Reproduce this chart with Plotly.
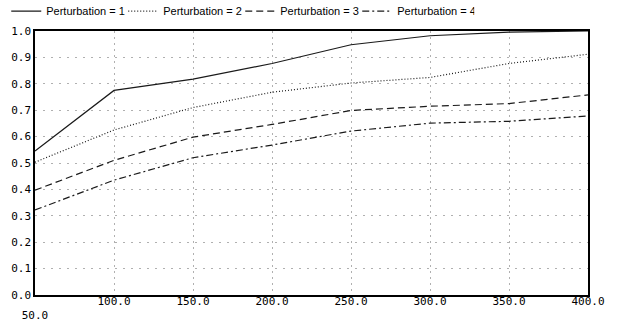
import plotly.graph_objects as go

# Sample sizes on the x axis
sizes = [50, 100, 150, 200, 250, 300, 350, 400]

# Success rate for each perturbation level
pert_1 = [0.545, 0.775, 0.818, 0.877, 0.948, 0.982, 0.996, 1.0]
pert_2 = [0.503, 0.625, 0.710, 0.768, 0.803, 0.824, 0.877, 0.912]
pert_3 = [0.397, 0.510, 0.598, 0.646, 0.699, 0.715, 0.725, 0.758]
pert_4 = [0.322, 0.435, 0.520, 0.568, 0.621, 0.651, 0.658, 0.678]

series_names = ["Perturbation = 1", "Perturbation = 2", "Perturbation = 3", "Perturbation = 4"]
x_tick_labels = ["<br>50.0", "100.0", "150.0", "200.0", "250.0", "300.0", "350.0", "400.0"]
y_ticks = [0.0, 0.1, 0.2, 0.3, 0.4, 0.5, 0.6, 0.7, 0.8, 0.9, 1.0]

styles = [
    dict(color="#1a1a1a", dash="solid"),
    dict(color="#1a1a1a", dash="1px,2px"),
    dict(color="#1a1a1a", dash="7px,4px"),
    dict(color="#1a1a1a", dash="7px,3px,2px,3px"),
]

fig = go.Figure()
for name, ys, st in zip(series_names, [pert_1, pert_2, pert_3, pert_4], styles):
    fig.add_trace(go.Scatter(
        x=sizes, y=ys, mode="lines", name=name,
        line=dict(color=st["color"], dash=st["dash"], width=1.2),
    ))

mono = dict(family="DejaVu Sans Mono, Liberation Mono, monospace", size=11, color="#000")

fig.update_layout(
    width=620, height=322,
    margin=dict(l=35, r=32, t=31, b=27, autoexpand=False),
    paper_bgcolor="white", plot_bgcolor="white",
    showlegend=True,
    legend=dict(
        orientation="h", x=-0.052, xanchor="left", y=1.13, yanchor="top",
        font=dict(family="Liberation Sans, Arial, sans-serif", size=11, color="#000"),
        entrywidth=72, entrywidthmode="pixels",
        bgcolor="rgba(0,0,0,0)", borderwidth=0,
        tracegroupgap=0, itemwidth=30,
    ),
    xaxis=dict(
        range=[50, 400], tickmode="array", tickvals=sizes, ticktext=x_tick_labels,
        showgrid=True, gridcolor="#b0b0b0", griddash="2px,4px", gridwidth=1,
        showline=True, linecolor="#000", linewidth=1.5, mirror=True,
        ticks="", tickfont=mono, ticklabelstandoff=-5,
        zeroline=False, fixedrange=True,
    ),
    yaxis=dict(
        range=[0, 1], tickmode="array", tickvals=y_ticks,
        ticktext=[f"{v:.1f}" for v in y_ticks],
        showgrid=True, gridcolor="#b0b0b0", griddash="2px,6px", gridwidth=1,
        showline=True, linecolor="#000", linewidth=1.5, mirror=True,
        ticks="", tickfont=mono, zeroline=False, fixedrange=True,
    ),
)

fig.write_html("out.html", config=dict(displayModeBar=False))
